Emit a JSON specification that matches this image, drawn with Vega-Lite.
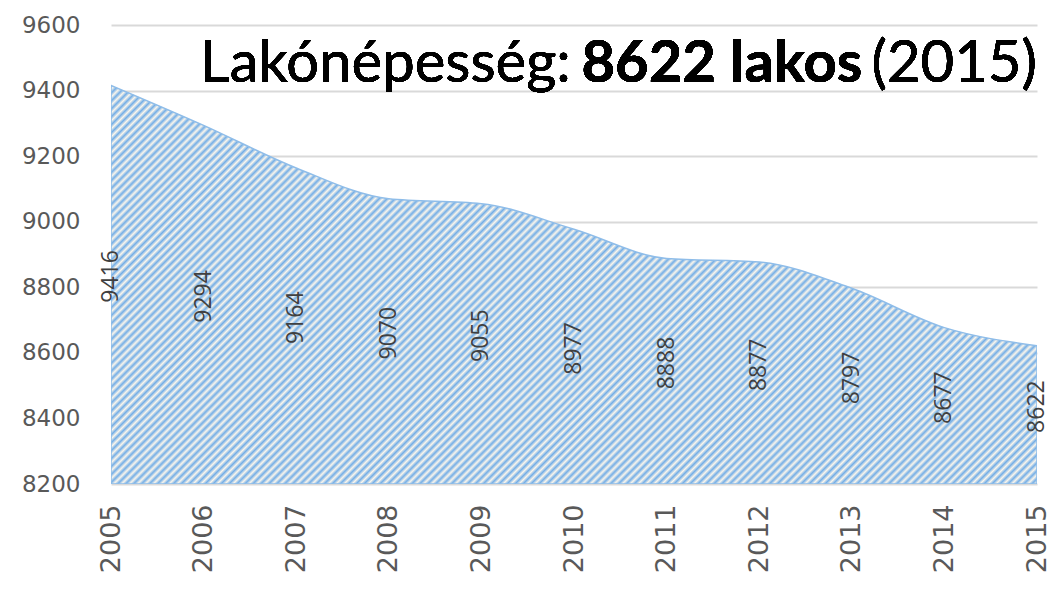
{
"$schema":"https://vega.github.io/schema/vega-lite/v6.json",
"width":926,"height":459,
"autosize":{"type":"none"},
"padding":{"left":111,"top":25,"right":10,"bottom":105},
"background":"white",
"config":{"view":{"stroke":null}},
"data":{"values":[
{"year":2005,"pop":9416},{"year":2006,"pop":9294},{"year":2007,"pop":9164},{"year":2008,"pop":9070},
{"year":2009,"pop":9055},{"year":2010,"pop":8977},{"year":2011,"pop":8888},{"year":2012,"pop":8877},
{"year":2013,"pop":8797},{"year":2014,"pop":8677},{"year":2015,"pop":8622}]},
"layer":[
{"mark":{"type":"area","interpolate":"monotone","clip":true,"stroke":"#8fbde9","strokeWidth":1.5,
"fill":{"gradient":"linear","x1":0,"y1":0,"x2":1.2068,"y2":0.5197,"stops":[
{"offset":0,"color":"#74aee6"},{"offset":0.003,"color":"#fbf6ec"},{"offset":0.006,"color":"#74aee6"},{"offset":0.009,"color":"#fbf6ec"},{"offset":0.012,"color":"#74aee6"},{"offset":0.015,"color":"#fbf6ec"},{"offset":0.018,"color":"#74aee6"},{"offset":0.021,"color":"#fbf6ec"},{"offset":0.024,"color":"#74aee6"},{"offset":0.027,"color":"#fbf6ec"},
{"offset":0.03,"color":"#74aee6"},{"offset":0.033,"color":"#fbf6ec"},{"offset":0.036,"color":"#74aee6"},{"offset":0.039,"color":"#fbf6ec"},{"offset":0.042,"color":"#74aee6"},{"offset":0.045,"color":"#fbf6ec"},{"offset":0.048,"color":"#74aee6"},{"offset":0.051,"color":"#fbf6ec"},{"offset":0.054,"color":"#74aee6"},{"offset":0.057,"color":"#fbf6ec"},
{"offset":0.06,"color":"#74aee6"},{"offset":0.063,"color":"#fbf6ec"},{"offset":0.066,"color":"#74aee6"},{"offset":0.069,"color":"#fbf6ec"},{"offset":0.072,"color":"#74aee6"},{"offset":0.075,"color":"#fbf6ec"},{"offset":0.078,"color":"#74aee6"},{"offset":0.081,"color":"#fbf6ec"},{"offset":0.084,"color":"#74aee6"},{"offset":0.087,"color":"#fbf6ec"},
{"offset":0.09,"color":"#74aee6"},{"offset":0.093,"color":"#fbf6ec"},{"offset":0.096,"color":"#74aee6"},{"offset":0.099,"color":"#fbf6ec"},{"offset":0.102,"color":"#74aee6"},{"offset":0.105,"color":"#fbf6ec"},{"offset":0.108,"color":"#74aee6"},{"offset":0.111,"color":"#fbf6ec"},{"offset":0.114,"color":"#74aee6"},{"offset":0.117,"color":"#fbf6ec"},
{"offset":0.12,"color":"#74aee6"},{"offset":0.123,"color":"#fbf6ec"},{"offset":0.126,"color":"#74aee6"},{"offset":0.129,"color":"#fbf6ec"},{"offset":0.132,"color":"#74aee6"},{"offset":0.135,"color":"#fbf6ec"},{"offset":0.138,"color":"#74aee6"},{"offset":0.141,"color":"#fbf6ec"},{"offset":0.144,"color":"#74aee6"},{"offset":0.147,"color":"#fbf6ec"},
{"offset":0.15,"color":"#74aee6"},{"offset":0.153,"color":"#fbf6ec"},{"offset":0.156,"color":"#74aee6"},{"offset":0.159,"color":"#fbf6ec"},{"offset":0.162,"color":"#74aee6"},{"offset":0.165,"color":"#fbf6ec"},{"offset":0.168,"color":"#74aee6"},{"offset":0.171,"color":"#fbf6ec"},{"offset":0.174,"color":"#74aee6"},{"offset":0.177,"color":"#fbf6ec"},
{"offset":0.18,"color":"#74aee6"},{"offset":0.183,"color":"#fbf6ec"},{"offset":0.186,"color":"#74aee6"},{"offset":0.189,"color":"#fbf6ec"},{"offset":0.192,"color":"#74aee6"},{"offset":0.195,"color":"#fbf6ec"},{"offset":0.198,"color":"#74aee6"},{"offset":0.201,"color":"#fbf6ec"},{"offset":0.204,"color":"#74aee6"},{"offset":0.207,"color":"#fbf6ec"},
{"offset":0.21,"color":"#74aee6"},{"offset":0.213,"color":"#fbf6ec"},{"offset":0.216,"color":"#74aee6"},{"offset":0.219,"color":"#fbf6ec"},{"offset":0.222,"color":"#74aee6"},{"offset":0.225,"color":"#fbf6ec"},{"offset":0.228,"color":"#74aee6"},{"offset":0.231,"color":"#fbf6ec"},{"offset":0.234,"color":"#74aee6"},{"offset":0.237,"color":"#fbf6ec"},
{"offset":0.24,"color":"#74aee6"},{"offset":0.243,"color":"#fbf6ec"},{"offset":0.246,"color":"#74aee6"},{"offset":0.249,"color":"#fbf6ec"},{"offset":0.252,"color":"#74aee6"},{"offset":0.255,"color":"#fbf6ec"},{"offset":0.258,"color":"#74aee6"},{"offset":0.261,"color":"#fbf6ec"},{"offset":0.264,"color":"#74aee6"},{"offset":0.267,"color":"#fbf6ec"},
{"offset":0.27,"color":"#74aee6"},{"offset":0.273,"color":"#fbf6ec"},{"offset":0.276,"color":"#74aee6"},{"offset":0.279,"color":"#fbf6ec"},{"offset":0.282,"color":"#74aee6"},{"offset":0.285,"color":"#fbf6ec"},{"offset":0.288,"color":"#74aee6"},{"offset":0.291,"color":"#fbf6ec"},{"offset":0.294,"color":"#74aee6"},{"offset":0.297,"color":"#fbf6ec"},
{"offset":0.3,"color":"#74aee6"},{"offset":0.303,"color":"#fbf6ec"},{"offset":0.306,"color":"#74aee6"},{"offset":0.309,"color":"#fbf6ec"},{"offset":0.312,"color":"#74aee6"},{"offset":0.315,"color":"#fbf6ec"},{"offset":0.318,"color":"#74aee6"},{"offset":0.321,"color":"#fbf6ec"},{"offset":0.324,"color":"#74aee6"},{"offset":0.327,"color":"#fbf6ec"},
{"offset":0.33,"color":"#74aee6"},{"offset":0.333,"color":"#fbf6ec"},{"offset":0.336,"color":"#74aee6"},{"offset":0.339,"color":"#fbf6ec"},{"offset":0.342,"color":"#74aee6"},{"offset":0.345,"color":"#fbf6ec"},{"offset":0.348,"color":"#74aee6"},{"offset":0.351,"color":"#fbf6ec"},{"offset":0.354,"color":"#74aee6"},{"offset":0.357,"color":"#fbf6ec"},
{"offset":0.36,"color":"#74aee6"},{"offset":0.363,"color":"#fbf6ec"},{"offset":0.366,"color":"#74aee6"},{"offset":0.369,"color":"#fbf6ec"},{"offset":0.372,"color":"#74aee6"},{"offset":0.375,"color":"#fbf6ec"},{"offset":0.378,"color":"#74aee6"},{"offset":0.381,"color":"#fbf6ec"},{"offset":0.384,"color":"#74aee6"},{"offset":0.387,"color":"#fbf6ec"},
{"offset":0.39,"color":"#74aee6"},{"offset":0.393,"color":"#fbf6ec"},{"offset":0.396,"color":"#74aee6"},{"offset":0.399,"color":"#fbf6ec"},{"offset":0.402,"color":"#74aee6"},{"offset":0.405,"color":"#fbf6ec"},{"offset":0.408,"color":"#74aee6"},{"offset":0.411,"color":"#fbf6ec"},{"offset":0.414,"color":"#74aee6"},{"offset":0.417,"color":"#fbf6ec"},
{"offset":0.42,"color":"#74aee6"},{"offset":0.423,"color":"#fbf6ec"},{"offset":0.426,"color":"#74aee6"},{"offset":0.429,"color":"#fbf6ec"},{"offset":0.432,"color":"#74aee6"},{"offset":0.435,"color":"#fbf6ec"},{"offset":0.438,"color":"#74aee6"},{"offset":0.441,"color":"#fbf6ec"},{"offset":0.444,"color":"#74aee6"},{"offset":0.447,"color":"#fbf6ec"},
{"offset":0.45,"color":"#74aee6"},{"offset":0.453,"color":"#fbf6ec"},{"offset":0.456,"color":"#74aee6"},{"offset":0.459,"color":"#fbf6ec"},{"offset":0.462,"color":"#74aee6"},{"offset":0.465,"color":"#fbf6ec"},{"offset":0.468,"color":"#74aee6"},{"offset":0.471,"color":"#fbf6ec"},{"offset":0.474,"color":"#74aee6"},{"offset":0.477,"color":"#fbf6ec"},
{"offset":0.48,"color":"#74aee6"},{"offset":0.483,"color":"#fbf6ec"},{"offset":0.486,"color":"#74aee6"},{"offset":0.489,"color":"#fbf6ec"},{"offset":0.492,"color":"#74aee6"},{"offset":0.495,"color":"#fbf6ec"},{"offset":0.498,"color":"#74aee6"},{"offset":0.501,"color":"#fbf6ec"},{"offset":0.504,"color":"#74aee6"},{"offset":0.507,"color":"#fbf6ec"},
{"offset":0.51,"color":"#74aee6"},{"offset":0.513,"color":"#fbf6ec"},{"offset":0.516,"color":"#74aee6"},{"offset":0.519,"color":"#fbf6ec"},{"offset":0.522,"color":"#74aee6"},{"offset":0.525,"color":"#fbf6ec"},{"offset":0.528,"color":"#74aee6"},{"offset":0.531,"color":"#fbf6ec"},{"offset":0.534,"color":"#74aee6"},{"offset":0.537,"color":"#fbf6ec"},
{"offset":0.54,"color":"#74aee6"},{"offset":0.543,"color":"#fbf6ec"},{"offset":0.546,"color":"#74aee6"},{"offset":0.549,"color":"#fbf6ec"},{"offset":0.552,"color":"#74aee6"},{"offset":0.555,"color":"#fbf6ec"},{"offset":0.558,"color":"#74aee6"},{"offset":0.561,"color":"#fbf6ec"},{"offset":0.564,"color":"#74aee6"},{"offset":0.567,"color":"#fbf6ec"},
{"offset":0.57,"color":"#74aee6"},{"offset":0.573,"color":"#fbf6ec"},{"offset":0.576,"color":"#74aee6"},{"offset":0.579,"color":"#fbf6ec"},{"offset":0.582,"color":"#74aee6"},{"offset":0.585,"color":"#fbf6ec"},{"offset":0.588,"color":"#74aee6"},{"offset":0.591,"color":"#fbf6ec"},{"offset":0.594,"color":"#74aee6"},{"offset":0.597,"color":"#fbf6ec"},
{"offset":0.6,"color":"#74aee6"},{"offset":0.603,"color":"#fbf6ec"},{"offset":0.606,"color":"#74aee6"},{"offset":0.609,"color":"#fbf6ec"},{"offset":0.612,"color":"#74aee6"},{"offset":0.615,"color":"#fbf6ec"},{"offset":0.618,"color":"#74aee6"},{"offset":0.621,"color":"#fbf6ec"},{"offset":0.624,"color":"#74aee6"},{"offset":0.627,"color":"#fbf6ec"},
{"offset":0.63,"color":"#74aee6"},{"offset":0.633,"color":"#fbf6ec"},{"offset":0.636,"color":"#74aee6"},{"offset":0.639,"color":"#fbf6ec"},{"offset":0.642,"color":"#74aee6"},{"offset":0.645,"color":"#fbf6ec"},{"offset":0.648,"color":"#74aee6"},{"offset":0.651,"color":"#fbf6ec"},{"offset":0.654,"color":"#74aee6"},{"offset":0.657,"color":"#fbf6ec"},
{"offset":0.66,"color":"#74aee6"},{"offset":0.663,"color":"#fbf6ec"},{"offset":0.666,"color":"#74aee6"},{"offset":0.669,"color":"#fbf6ec"},{"offset":0.672,"color":"#74aee6"},{"offset":0.675,"color":"#fbf6ec"},{"offset":0.678,"color":"#74aee6"},{"offset":0.681,"color":"#fbf6ec"},{"offset":0.684,"color":"#74aee6"},{"offset":0.687,"color":"#fbf6ec"},
{"offset":0.69,"color":"#74aee6"},{"offset":0.693,"color":"#fbf6ec"},{"offset":0.696,"color":"#74aee6"},{"offset":0.699,"color":"#fbf6ec"},{"offset":0.702,"color":"#74aee6"},{"offset":0.705,"color":"#fbf6ec"},{"offset":0.708,"color":"#74aee6"},{"offset":0.711,"color":"#fbf6ec"},{"offset":0.714,"color":"#74aee6"},{"offset":0.717,"color":"#fbf6ec"},
{"offset":0.72,"color":"#74aee6"},{"offset":0.723,"color":"#fbf6ec"},{"offset":0.726,"color":"#74aee6"},{"offset":0.729,"color":"#fbf6ec"},{"offset":0.732,"color":"#74aee6"},{"offset":0.735,"color":"#fbf6ec"},{"offset":0.738,"color":"#74aee6"},{"offset":0.741,"color":"#fbf6ec"},{"offset":0.744,"color":"#74aee6"},{"offset":0.747,"color":"#fbf6ec"},
{"offset":0.75,"color":"#74aee6"},{"offset":0.753,"color":"#fbf6ec"},{"offset":0.756,"color":"#74aee6"},{"offset":0.759,"color":"#fbf6ec"},{"offset":0.762,"color":"#74aee6"},{"offset":0.765,"color":"#fbf6ec"},{"offset":0.768,"color":"#74aee6"},{"offset":0.771,"color":"#fbf6ec"},{"offset":0.774,"color":"#74aee6"},{"offset":0.777,"color":"#fbf6ec"},
{"offset":0.78,"color":"#74aee6"},{"offset":0.783,"color":"#fbf6ec"},{"offset":0.786,"color":"#74aee6"},{"offset":0.789,"color":"#fbf6ec"},{"offset":0.792,"color":"#74aee6"},{"offset":0.795,"color":"#fbf6ec"},{"offset":0.798,"color":"#74aee6"},{"offset":0.801,"color":"#fbf6ec"},{"offset":0.804,"color":"#74aee6"},{"offset":0.807,"color":"#fbf6ec"},
{"offset":0.81,"color":"#74aee6"},{"offset":0.813,"color":"#fbf6ec"},{"offset":0.816,"color":"#74aee6"},{"offset":0.819,"color":"#fbf6ec"},{"offset":0.822,"color":"#74aee6"},{"offset":0.825,"color":"#fbf6ec"},{"offset":0.828,"color":"#74aee6"},{"offset":0.831,"color":"#fbf6ec"},{"offset":0.834,"color":"#74aee6"},{"offset":0.837,"color":"#fbf6ec"},
{"offset":0.84,"color":"#74aee6"},{"offset":0.843,"color":"#fbf6ec"},{"offset":0.846,"color":"#74aee6"},{"offset":0.849,"color":"#fbf6ec"},{"offset":0.852,"color":"#74aee6"},{"offset":0.855,"color":"#fbf6ec"},{"offset":0.858,"color":"#74aee6"},{"offset":0.861,"color":"#fbf6ec"},{"offset":0.864,"color":"#74aee6"},{"offset":0.867,"color":"#fbf6ec"},
{"offset":0.87,"color":"#74aee6"},{"offset":0.873,"color":"#fbf6ec"},{"offset":0.876,"color":"#74aee6"},{"offset":0.879,"color":"#fbf6ec"},{"offset":0.882,"color":"#74aee6"},{"offset":0.885,"color":"#fbf6ec"},{"offset":0.888,"color":"#74aee6"},{"offset":0.891,"color":"#fbf6ec"},{"offset":0.894,"color":"#74aee6"},{"offset":0.897,"color":"#fbf6ec"},
{"offset":0.9,"color":"#74aee6"},{"offset":0.903,"color":"#fbf6ec"},{"offset":0.906,"color":"#74aee6"},{"offset":0.909,"color":"#fbf6ec"},{"offset":0.912,"color":"#74aee6"},{"offset":0.915,"color":"#fbf6ec"},{"offset":0.918,"color":"#74aee6"},{"offset":0.921,"color":"#fbf6ec"},{"offset":0.924,"color":"#74aee6"},{"offset":0.927,"color":"#fbf6ec"},
{"offset":0.93,"color":"#74aee6"},{"offset":0.933,"color":"#fbf6ec"},{"offset":0.936,"color":"#74aee6"},{"offset":0.939,"color":"#fbf6ec"},{"offset":0.942,"color":"#74aee6"},{"offset":0.945,"color":"#fbf6ec"},{"offset":0.948,"color":"#74aee6"},{"offset":0.951,"color":"#fbf6ec"},{"offset":0.954,"color":"#74aee6"},{"offset":0.957,"color":"#fbf6ec"},
{"offset":0.96,"color":"#74aee6"},{"offset":0.963,"color":"#fbf6ec"},{"offset":0.966,"color":"#74aee6"},{"offset":0.969,"color":"#fbf6ec"},{"offset":0.972,"color":"#74aee6"},{"offset":0.975,"color":"#fbf6ec"},{"offset":0.978,"color":"#74aee6"},{"offset":0.981,"color":"#fbf6ec"},{"offset":0.984,"color":"#74aee6"},{"offset":0.987,"color":"#fbf6ec"},
{"offset":0.99,"color":"#74aee6"},{"offset":0.993,"color":"#fbf6ec"},{"offset":0.996,"color":"#74aee6"},{"offset":0.999,"color":"#fbf6ec"},{"offset":1,"color":"#74aee6"}
]}},
"encoding":{
"x":{"field":"year","type":"quantitative","scale":{"domain":[2005,2015],"nice":false,"zero":false},
"axis":{"values":[2005,2006,2007,2008,2009,2010,2011,2012,2013,2014,2015],"format":"d","labelAngle":270,"labelFont":"DejaVu Sans","labelFontSize":27,"labelColor":"#595959","labelPadding":20,"domain":false,"ticks":false,"tickSize":0,"grid":false,"title":null,"labelOverlap":false,"labelFlush":false}},
"y":{"field":"pop","type":"quantitative","scale":{"domain":[8200,9600],"nice":false,"zero":false},
"axis":{"values":[8200,8400,8600,8800,9000,9200,9400,9600],"format":"d","labelFont":"DejaVu Sans","labelFontSize":23,"labelColor":"#595959","labelPadding":31,"domain":false,"ticks":false,"tickSize":0,"grid":true,"gridColor":"#d9d9d9","gridWidth":2,"title":null,"labelOverlap":false}},
"y2":{"datum":8200}
}},
{"transform":[{"calculate":"(datum.pop+8200)/2+25","as":"mid"}],
"mark":{"type":"text","angle":270,"font":"Open Sans","fontSize":23,"color":"#404040","align":"center","baseline":"middle"},
"encoding":{"x":{"field":"year","type":"quantitative"},"y":{"field":"mid","type":"quantitative"},"text":{"field":"pop","type":"quantitative","format":"d"}}},
{"mark":{"type":"text","font":"Lato","fontSize":58,"fontWeight":"normal","color":"#000000","align":"left","baseline":"alphabetic"},
"encoding":{"x":{"datum":2005.96},"y":{"datum":9425},"text":{"value":"Lakónépesség:"}}},
{"mark":{"type":"text","font":"Lato","fontSize":58,"fontWeight":"bold","color":"#000000","align":"left","baseline":"alphabetic"},
"encoding":{"x":{"datum":2010.08},"y":{"datum":9425},"text":{"value":"8622 lakos"}}},
{"mark":{"type":"text","font":"Lato","fontSize":58,"fontWeight":"normal","color":"#000000","align":"right","baseline":"alphabetic"},
"encoding":{"x":{"datum":2015},"y":{"datum":9425},"text":{"value":"(2015)"}}}
]
}
